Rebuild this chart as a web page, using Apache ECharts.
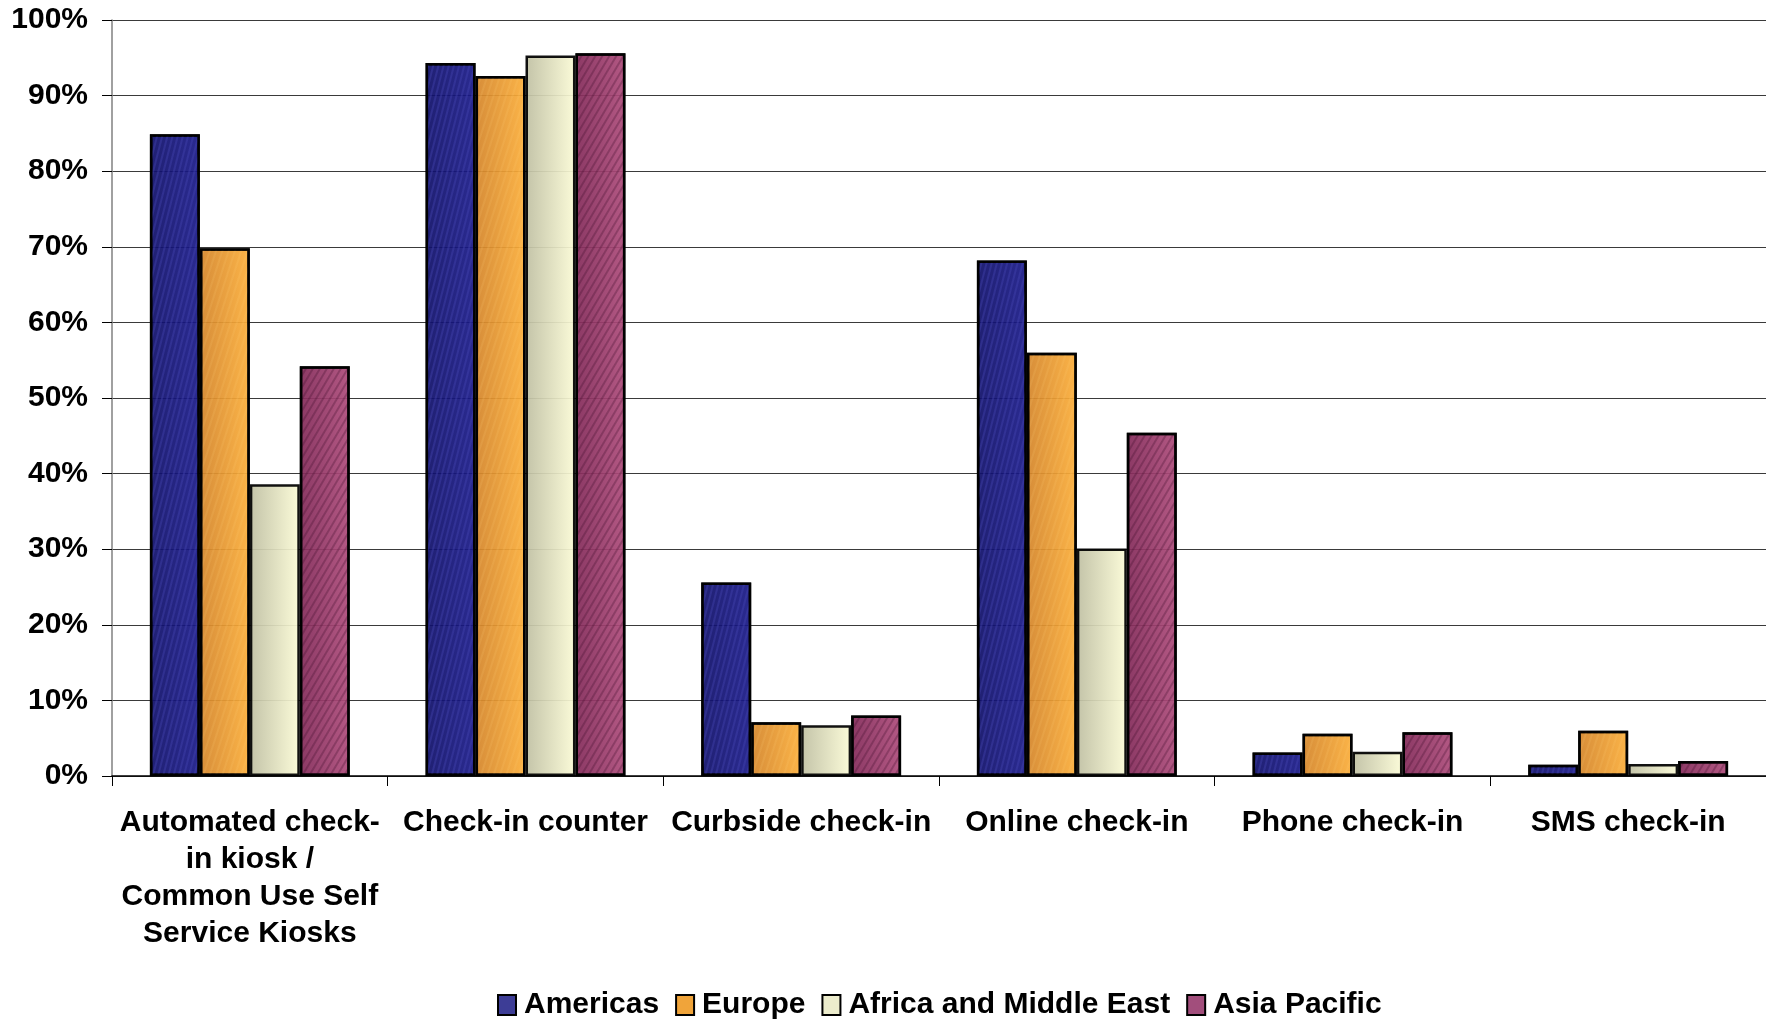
<!DOCTYPE html>
<html>
<head>
<meta charset="utf-8">
<script src="https://cdn.jsdelivr.net/npm/echarts@6/dist/echarts.min.js"></script>
<style>
  html, body { margin: 0; padding: 0; background: #ffffff; }
  #chart { width: 1766px; height: 1022px; }
</style>
</head>
<body>
<div id="chart"></div>
<script>
// Check-in channels offered, by region (share of respondents)
const categories = [
  'Automated check-\nin kiosk /\nCommon Use Self\nService Kiosks',
  'Check-in counter',
  'Curbside check-in',
  'Online check-in',
  'Phone check-in',
  'SMS check-in'
];
const regionNames = ['Americas', 'Europe', 'Africa and Middle East', 'Asia Pacific'];
const americas = [84.9, 94.3, 25.6, 68.2, 3.1, 1.5];
const europe   = [69.8, 92.6, 7.1, 56.0, 5.6, 6.0];
const africaME = [38.6, 95.3, 6.7, 30.1, 3.2, 1.6];
const asiaPac  = [54.2, 95.6, 8.0, 45.4, 5.8, 2.0];
const yTicks = [0, 10, 20, 30, 40, 50, 60, 70, 80, 90, 100];

const FONT = '"Liberation Sans", Arial, sans-serif';

function hGrad(left, right) {
  return {
    type: 'linear', x: 0, y: 0, x2: 1, y2: 0,
    colorStops: [{ offset: 0, color: left }, { offset: 1, color: right }]
  };
}

const styles = [
  {
    color: hGrad('#0f0f68', '#1a1a88'),
    decal: { symbol: 'rect', symbolSize: 1, dashArrayX: [1, 0], dashArrayY: [2, 3],
             rotation: -Math.PI * 0.42, color: 'rgba(70,70,180,0.4)' },
    legendColor: '#3d3d96'
  },
  {
    color: hGrad('#d4852a', '#fbae3a'),
    decal: { symbol: 'rect', symbolSize: 1, dashArrayX: [1, 0], dashArrayY: [2, 4],
             rotation: -Math.PI * 0.40, color: 'rgba(255,210,120,0.15)' },
    legendColor: '#f0a43a'
  },
  {
    color: hGrad('#bfbfa2', '#fbfbd6'),
    decal: null,
    legendColor: '#ececcc'
  },
  {
    color: hGrad('#832a59', '#ae4c7b'),
    decal: { symbol: 'rect', symbolSize: 1, dashArrayX: [1, 0], dashArrayY: [2, 4],
             rotation: -Math.PI * 0.33, color: 'rgba(60,10,40,0.3)' },
    legendColor: '#a24e7c'
  }
];

const seriesData = [americas, europe, africaME, asiaPac];

const series = seriesData.map((vals, i) => {
  const itemStyle = {
    color: styles[i].color,
    borderColor: '#000000',
    borderWidth: 2.5,
    opacity: 0.93
  };
  if (styles[i].decal) itemStyle.decal = styles[i].decal;
  return {
    name: regionNames[i],
    type: 'bar',
    data: vals,
    barGap: '0%',
    barCategoryGap: '27.5%',
    itemStyle: itemStyle,
    emphasis: { disabled: true }
  };
});

const chart = echarts.init(document.getElementById('chart'), null, { renderer: 'canvas' });

chart.setOption({
  animation: false,
  backgroundColor: '#ffffff',
  grid: { left: 112, top: 20, right: 0, bottom: 246, containLabel: false },
  legend: {
    data: regionNames.map((n, i) => ({
      name: n,
      itemStyle: { color: styles[i].legendColor, borderColor: '#000', borderWidth: 2, decal: 'none', opacity: 1 }
    })),
    left: 497,
    top: 990,
    icon: 'rect',
    itemWidth: 18,
    itemHeight: 20,
    itemGap: 16,
    padding: 0,
    textStyle: { fontFamily: FONT, fontWeight: 'bold', fontSize: 30, color: '#000', padding: [0, 0, 0, 3] }
  },
  xAxis: {
    type: 'category',
    data: categories,
    boundaryGap: true,
    axisLine: { lineStyle: { color: '#000', width: 1.5 } },
    axisTick: { show: true, length: 10, alignWithLabel: false, lineStyle: { color: '#000', width: 1 } },
    axisLabel: {
      interval: 0,
      margin: 28,
      fontFamily: FONT,
      fontWeight: 'bold',
      fontSize: 30,
      lineHeight: 37,
      color: '#000',
      align: 'center'
    },
    splitLine: { show: false }
  },
  yAxis: {
    type: 'value',
    min: 0,
    max: 100,
    interval: 10,
    axisLine: { show: true, lineStyle: { color: '#808080', width: 1.5 } },
    axisTick: { show: true, length: 10, lineStyle: { color: '#000', width: 1 } },
    axisLabel: {
      margin: 24,
      fontFamily: FONT,
      fontWeight: 'bold',
      fontSize: 30,
      color: '#000',
      formatter: v => (yTicks.indexOf(v) >= 0 ? v + '%' : '')
    },
    splitLine: { show: true, lineStyle: { color: '#3a3a3a', width: 1.2 } }
  },
  series: series
});
</script>
</body>
</html>
